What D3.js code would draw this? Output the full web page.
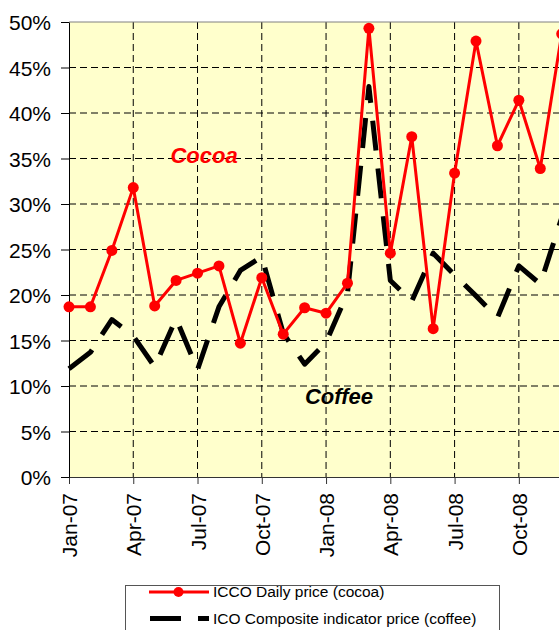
<!DOCTYPE html>
<html>
<head>
<meta charset="utf-8">
<script src="https://cdn.jsdelivr.net/npm/d3@7"></script>
<style>
  body { margin: 0; background: #fff; }
  svg { display: block; font-family: "Liberation Sans", Arial, sans-serif; }
</style>
</head>
<body>
<div id="chart"></div>
<script>
// monthly observations, Jan-07 .. Dec-08 (percent)
var months = ['Jan-07', 'Feb-07', 'Mar-07', 'Apr-07', 'May-07', 'Jun-07', 'Jul-07', 'Aug-07',
  'Sep-07', 'Oct-07', 'Nov-07', 'Dec-07', 'Jan-08', 'Feb-08', 'Mar-08', 'Apr-08',
  'May-08', 'Jun-08', 'Jul-08', 'Aug-08', 'Sep-08', 'Oct-08', 'Nov-08', 'Dec-08']

var cocoa = [18.7, 18.7, 24.9, 31.8, 18.8, 21.6, 22.4, 23.2, 14.7, 21.9, 15.7, 18.6,
  18.0, 21.3, 49.3, 24.6, 37.4, 16.3, 33.4, 47.9, 36.4, 41.4, 33.9, 48.7]

var coffee = [11.9, 13.7, 17.3, 15.5, 12.1, 17.4, 11.8, 18.7, 22.7, 24.2, 15.8, 12.4,
  14.8, 20.2, 42.9, 21.6, 19.3, 24.6, 22.2, 19.9, 17.5, 23.2, 21.2, 28.5]

var xTickMonths = ['Jan-07', 'Apr-07', 'Jul-07', 'Oct-07', 'Jan-08', 'Apr-08', 'Jul-08', 'Oct-08']
var yTicks = [0, 5, 10, 15, 20, 25, 30, 35, 40, 45, 50]

var seriesNames = ['ICCO Daily price (cocoa)', 'ICO Composite indicator price (coffee)']

var width = 559, height = 630
var plot = {left: 69, top: 22, bottom: 477, right: 561.7}

var svg = d3.select('#chart').append('svg')
  .attr('width', width)
  .attr('height', height)

svg.append('rect').attr('width', width).attr('height', height).attr('fill', '#fff')

var x = d3.scaleLinear().domain([0, months.length - 1]).range([plot.left, plot.right])
var y = d3.scaleLinear().domain([0, 50]).range([plot.bottom, plot.top])

// plot area
svg.append('rect')
  .attr('x', plot.left).attr('y', plot.top)
  .attr('width', plot.right - plot.left).attr('height', plot.bottom - plot.top)
  .attr('fill', '#ffffcc')

// gridlines
var grid = svg.append('g')
  .attr('stroke', '#000')
  .attr('stroke-width', 1)
  .attr('stroke-dasharray', '7,4')

grid.selectAll('line.h').data(yTicks.filter(d => d > 0 && d < 50))
  .join('line')
  .attr('class', 'h')
  .attr('x1', plot.left).attr('x2', plot.right)
  .attr('y1', d => y(d)).attr('y2', d => y(d))

grid.selectAll('line.v').data(xTickMonths.slice(1))
  .join('line')
  .attr('class', 'v')
  .attr('x1', d => x(months.indexOf(d))).attr('x2', d => x(months.indexOf(d)))
  .attr('y1', plot.top).attr('y2', plot.bottom)

// top border
svg.append('line')
  .attr('x1', plot.left).attr('x2', plot.right)
  .attr('y1', plot.top).attr('y2', plot.top)
  .attr('stroke', '#808080')

// axes
var xAxis = d3.axisBottom(x)
  .tickValues(xTickMonths.map(d => months.indexOf(d)))
  .tickFormat(i => months[i])
  .tickSize(7)
  .tickSizeOuter(0)

var xg = svg.append('g')
  .attr('transform', `translate(0,${plot.bottom})`)
  .call(xAxis)

xg.select('.domain').attr('stroke', '#333')
xg.selectAll('.tick line').attr('stroke', '#333')
xg.selectAll('.tick text')
  .attr('transform', 'rotate(-90)')
  .attr('text-anchor', 'end')
  .attr('x', -16)
  .attr('y', 7.5)
  .attr('dy', 0)
  .attr('fill', '#000')
  .style('font-size', '21px')
  .style('font-family', '"Liberation Sans", Arial, sans-serif')

var yAxis = d3.axisLeft(y)
  .tickValues(yTicks)
  .tickFormat(d => d + '%')
  .tickSize(8)
  .tickPadding(10)
  .tickSizeOuter(0)

var yg = svg.append('g')
  .attr('transform', `translate(${plot.left},0)`)
  .call(yAxis)

yg.select('.domain').attr('stroke', '#000')
yg.selectAll('.tick line').attr('stroke', '#000')
yg.selectAll('.tick text')
  .attr('fill', '#000')
  .attr('dy', '0.36em')
  .style('font-size', '21px')
  .style('font-family', '"Liberation Sans", Arial, sans-serif')

// series
var line = d3.line()
  .x((d, i) => x(i))
  .y(d => y(d))

svg.append('path')
  .datum(coffee)
  .attr('d', line)
  .attr('fill', 'none')
  .attr('stroke', '#000')
  .attr('stroke-width', 5)
  .attr('stroke-dasharray', '30,18')
  .attr('stroke-linejoin', 'round')

svg.append('path')
  .datum(cocoa)
  .attr('d', line)
  .attr('fill', 'none')
  .attr('stroke', '#ff0000')
  .attr('stroke-width', 3)
  .attr('stroke-linejoin', 'round')

svg.selectAll('circle.cocoa').data(cocoa)
  .join('circle')
  .attr('class', 'cocoa')
  .attr('cx', (d, i) => x(i))
  .attr('cy', d => y(d))
  .attr('r', 5.5)
  .attr('fill', '#ff0000')

// labels inside the plot
svg.append('text').text('Cocoa')
  .attr('x', 204).attr('y', 163)
  .attr('text-anchor', 'middle')
  .attr('fill', '#ff0000')
  .style('font-size', '22px')
  .style('font-weight', 'bold')
  .style('font-style', 'italic')

svg.append('text').text('Coffee')
  .attr('x', 339).attr('y', 404)
  .attr('text-anchor', 'middle')
  .attr('fill', '#000')
  .style('font-size', '22px')
  .style('font-weight', 'bold')
  .style('font-style', 'italic')

// legend
var lg = svg.append('g')
lg.append('rect')
  .attr('x', 125.5).attr('y', 585.5)
  .attr('width', 374).attr('height', 60)
  .attr('fill', '#fff')
  .attr('stroke', '#555')

lg.append('line')
  .attr('x1', 149).attr('x2', 209).attr('y1', 592).attr('y2', 592)
  .attr('stroke', '#ff0000').attr('stroke-width', 3)
lg.append('circle').attr('cx', 178.5).attr('cy', 592).attr('r', 5).attr('fill', '#ff0000')

lg.append('line')
  .attr('x1', 150).attr('x2', 209).attr('y1', 618.5).attr('y2', 618.5)
  .attr('stroke', '#000').attr('stroke-width', 5)
  .attr('stroke-dasharray', '31,17')

lg.selectAll('text').data(seriesNames)
  .join('text')
  .text(d => d)
  .attr('x', 213)
  .attr('y', (d, i) => 597 + i * 27)
  .attr('fill', '#000')
  .style('font-size', '15.5px')
</script>
</body>
</html>
